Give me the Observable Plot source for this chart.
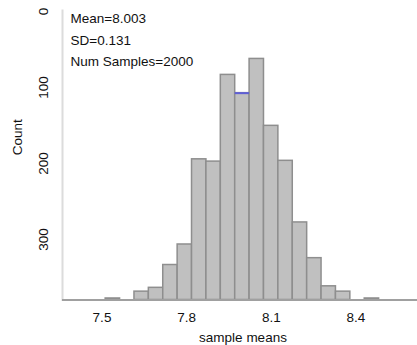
<!DOCTYPE html>
<html><head><meta charset="utf-8">
<script src="https://cdn.jsdelivr.net/npm/d3@7"></script>
<script src="https://cdn.jsdelivr.net/npm/@observablehq/plot@0.6"></script>
<style>body{margin:0;background:#fff} svg{display:block}</style>
</head><body><div id="chart"></div>
<script>
// Histogram bins (lower / upper edges) and counts
const binStarts = [7.513, 7.564, 7.615, 7.666, 7.717, 7.768, 7.819, 7.870, 7.921, 7.972, 8.023, 8.074, 8.125, 8.176, 8.227, 8.278, 8.329, 8.380, 8.431];
const binEnds   = [7.564, 7.615, 7.666, 7.717, 7.768, 7.819, 7.870, 7.921, 7.972, 8.023, 8.074, 8.125, 8.176, 8.227, 8.278, 8.329, 8.380, 8.431, 8.482];
const counts    = [2, 0, 11, 16, 46, 73, 185, 182, 296, 272, 317, 229, 183, 102, 55, 18, 11, 0, 2];
const xTicks = [7.5, 7.8, 8.1, 8.4];
const yTicks = [0, 100, 200, 300];
const statLabels = ["Mean=8.003", "SD=0.131", "Num Samples=2000"];
const meanValue = 8.003;
const xLabel = "sample means";
const yLabel = "Count";
const yBase = 379.5; // count value at the baseline (the axis runs downward)

const bins = counts.map((c, i) => ({x1: binStarts[i], x2: binEnds[i], count: c}));
const meanBin = bins.filter(b => meanValue >= b.x1 && meanValue < b.x2);

const chart = Plot.plot({
  width: 417, height: 345,
  marginLeft: 62, marginRight: 0, marginTop: 10, marginBottom: 45.5,
  style: {fontFamily: "'Liberation Sans', Arial, sans-serif", fontSize: "13.5px", color: "#111", background: "#fff"},
  x: {domain: [7.36, 8.618], range: [62, 417]},
  y: {domain: [0, yBase], range: [10.9, 299.5]},
  marks: [
    Plot.frame({anchor: "left", stroke: "#dcdcdc", strokeWidth: 2}),
    Plot.rectY(bins, {x1: "x1", x2: "x2", y1: yBase, y2: d => yBase - d.count, fill: "#c0c0c0", stroke: "#8e8e8e", strokeWidth: 1.5}),
    Plot.ruleY([yBase], {stroke: "#a0a0a0", strokeWidth: 2}),
    Plot.ruleY(meanBin, {x1: "x1", x2: "x2", y: d => yBase - d.count, stroke: "#5f5fd6", strokeWidth: 2}),
    Plot.axisX({ticks: xTicks, tickSize: 0, tickPadding: 18, lineAnchor: "middle", label: null, tickFormat: d => d.toFixed(1)}),
    Plot.axisY({ticks: yTicks, tickSize: 0, tickRotate: -90, lineAnchor: "middle", tickPadding: 18.5, label: null}),
    Plot.text([xLabel], {frameAnchor: "bottom", dx: 3, dy: 38, text: d => d, lineAnchor: "middle"}),
    Plot.text([yLabel], {frameAnchor: "left", dx: -45.3, rotate: -90, text: d => d, lineAnchor: "middle"}),
    ...statLabels.map((s, i) => Plot.text([s], {frameAnchor: "top-left", dx: 8, dy: 8.5 + i * 21.5, text: d => d, textAnchor: "start", lineAnchor: "middle"}))
  ]
});
document.getElementById("chart").append(chart);
</script>
</body></html>
